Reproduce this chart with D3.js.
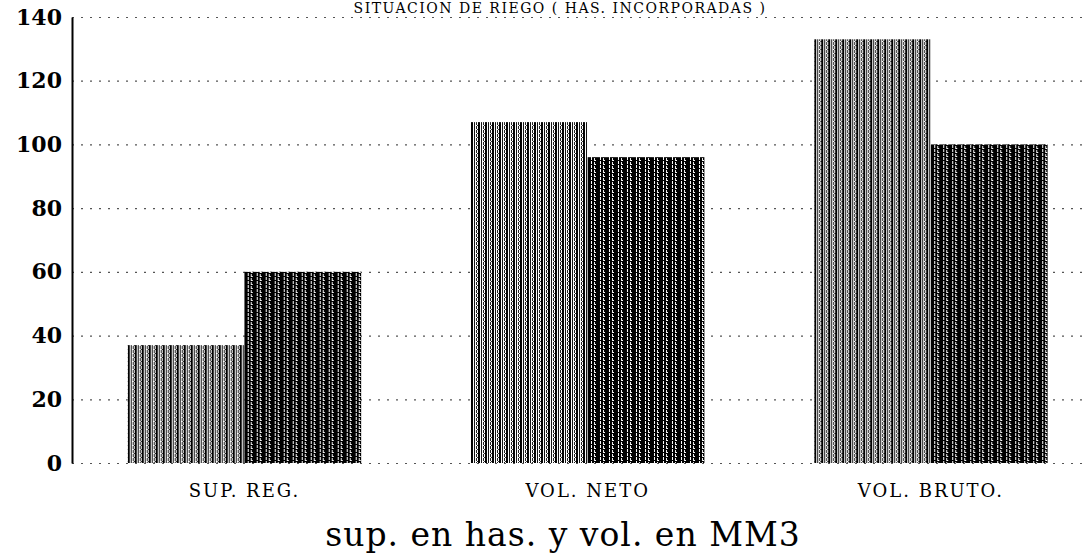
<!DOCTYPE html>
<html>
<head>
<meta charset="utf-8">
<script src="https://cdn.jsdelivr.net/npm/d3@7"></script>
<style>
  body { margin: 0; background: #fff; }
  svg { display: block; }
</style>
</head>
<body>
<div id="chart"></div>
<script>
// data
var categories = ["SUP. REG.", "VOL. NETO", "VOL. BRUTO."];
var series1 = [37, 107, 133];
var series2 = [60, 96, 100];
var yTicks = [0, 20, 40, 60, 80, 100, 120, 140];
var title = "SITUACION DE RIEGO ( HAS. INCORPORADAS )";
var xTitle = "sup. en has. y vol. en MM3";

var W = 1088, H = 556;
var margin = {top: 17, right: 0, bottom: 93, left: 72},
    width = W - margin.left - margin.right,
    height = H - margin.top - margin.bottom;

var svg = d3.select("#chart")
  .append("svg")
  .attr("width", W)
  .attr("height", H);

// halftone-ish stripes for the two series
var defs = svg.append("defs");
var p1 = defs.append("pattern")
  .attr("id", "light")
  .attr("patternUnits", "userSpaceOnUse")
  .attr("width", 7).attr("height", 4);
p1.append("rect").attr("width", 7).attr("height", 4).attr("fill", "#fff");
p1.append("rect").attr("x", 0).attr("width", 2).attr("height", 4).attr("fill", "#000");
p1.append("rect").attr("x", 3).attr("width", 1).attr("height", 4).attr("fill", "#111");
p1.append("rect").attr("x", 5).attr("y", 1).attr("width", 1).attr("height", 3).attr("fill", "#222");
p1.append("rect").attr("x", 6).attr("y", 0).attr("width", 1).attr("height", 1).attr("fill", "#333");

var p2 = defs.append("pattern")
  .attr("id", "dark")
  .attr("patternUnits", "userSpaceOnUse")
  .attr("width", 9).attr("height", 4);
p2.append("rect").attr("width", 9).attr("height", 4).attr("fill", "#000");
p2.append("rect").attr("x", 3).attr("width", 1).attr("height", 3).attr("fill", "#fff");
p2.append("rect").attr("x", 6).attr("y", 1).attr("width", 1).attr("height", 3).attr("fill", "#eee");
p2.append("rect").attr("x", 7).attr("y", 3).attr("width", 1).attr("height", 1).attr("fill", "#fff");

var g = svg.append("g")
  .attr("transform", "translate(" + margin.left + "," + margin.top + ")");

var y = d3.scaleLinear()
  .domain([0, 140])
  .range([height, 0]);

var x0 = d3.scaleBand()
  .domain(categories)
  .range([0, width])
  .paddingInner(0.32)
  .paddingOuter(0.14)
  .align(0.58);

var x1 = d3.scaleBand()
  .domain([0, 1])
  .range([0, x0.bandwidth()]);

// dotted grid lines
g.append("g")
  .call(d3.axisLeft(y).tickValues(yTicks).tickSize(-width).tickFormat(""))
  .call(gg => gg.select(".domain").remove())
  .call(gg => gg.selectAll(".tick line")
      .attr("stroke", "#555")
      .attr("stroke-width", 1.2)
      .attr("stroke-dasharray", "2 7"));

// bars
var groups = g.selectAll(".grp")
  .data(categories)
  .enter().append("g")
  .attr("class", "grp")
  .attr("transform", d => "translate(" + x0(d) + ",0)");

groups.append("rect")
  .attr("x", x1(0))
  .attr("y", (d, i) => y(series1[i]))
  .attr("width", x1.bandwidth())
  .attr("height", (d, i) => height - y(series1[i]))
  .attr("fill", "url(#light)");

groups.append("rect")
  .attr("x", x1(1))
  .attr("y", (d, i) => y(series2[i]))
  .attr("width", x1.bandwidth())
  .attr("height", (d, i) => height - y(series2[i]))
  .attr("fill", "url(#dark)");

// y axis
g.append("g")
  .call(d3.axisLeft(y).tickValues(yTicks).tickSize(0).tickPadding(10))
  .call(gg => gg.select(".domain").attr("stroke", "#000").attr("stroke-width", 2))
  .call(gg => gg.selectAll(".tick text")
      .attr("fill", "#000")
      .style("font-family", "'DejaVu Serif', serif")
      .style("font-weight", "bold")
      .style("font-size", "22px"));

// x axis labels
g.append("g")
  .attr("transform", "translate(0," + height + ")")
  .call(d3.axisBottom(x0).tickSize(0).tickPadding(21))
  .call(gg => gg.select(".domain").remove())
  .call(gg => gg.selectAll(".tick text")
      .attr("fill", "#000")
      .style("font-family", "'DejaVu Serif', serif")
      .style("font-size", "18px")
      .style("letter-spacing", "2px"));

// titles
svg.append("text")
  .attr("x", 560)
  .attr("y", 13)
  .attr("text-anchor", "middle")
  .style("font-family", "'DejaVu Serif', serif")
  .style("font-size", "14px")
  .style("letter-spacing", "1.5px")
  .text(title);

svg.append("text")
  .attr("x", 563)
  .attr("y", 546)
  .attr("text-anchor", "middle")
  .style("font-family", "'DejaVu Serif', serif")
  .style("font-size", "33px")
  .style("letter-spacing", "1px")
  .text(xTitle);
</script>
</body>
</html>
